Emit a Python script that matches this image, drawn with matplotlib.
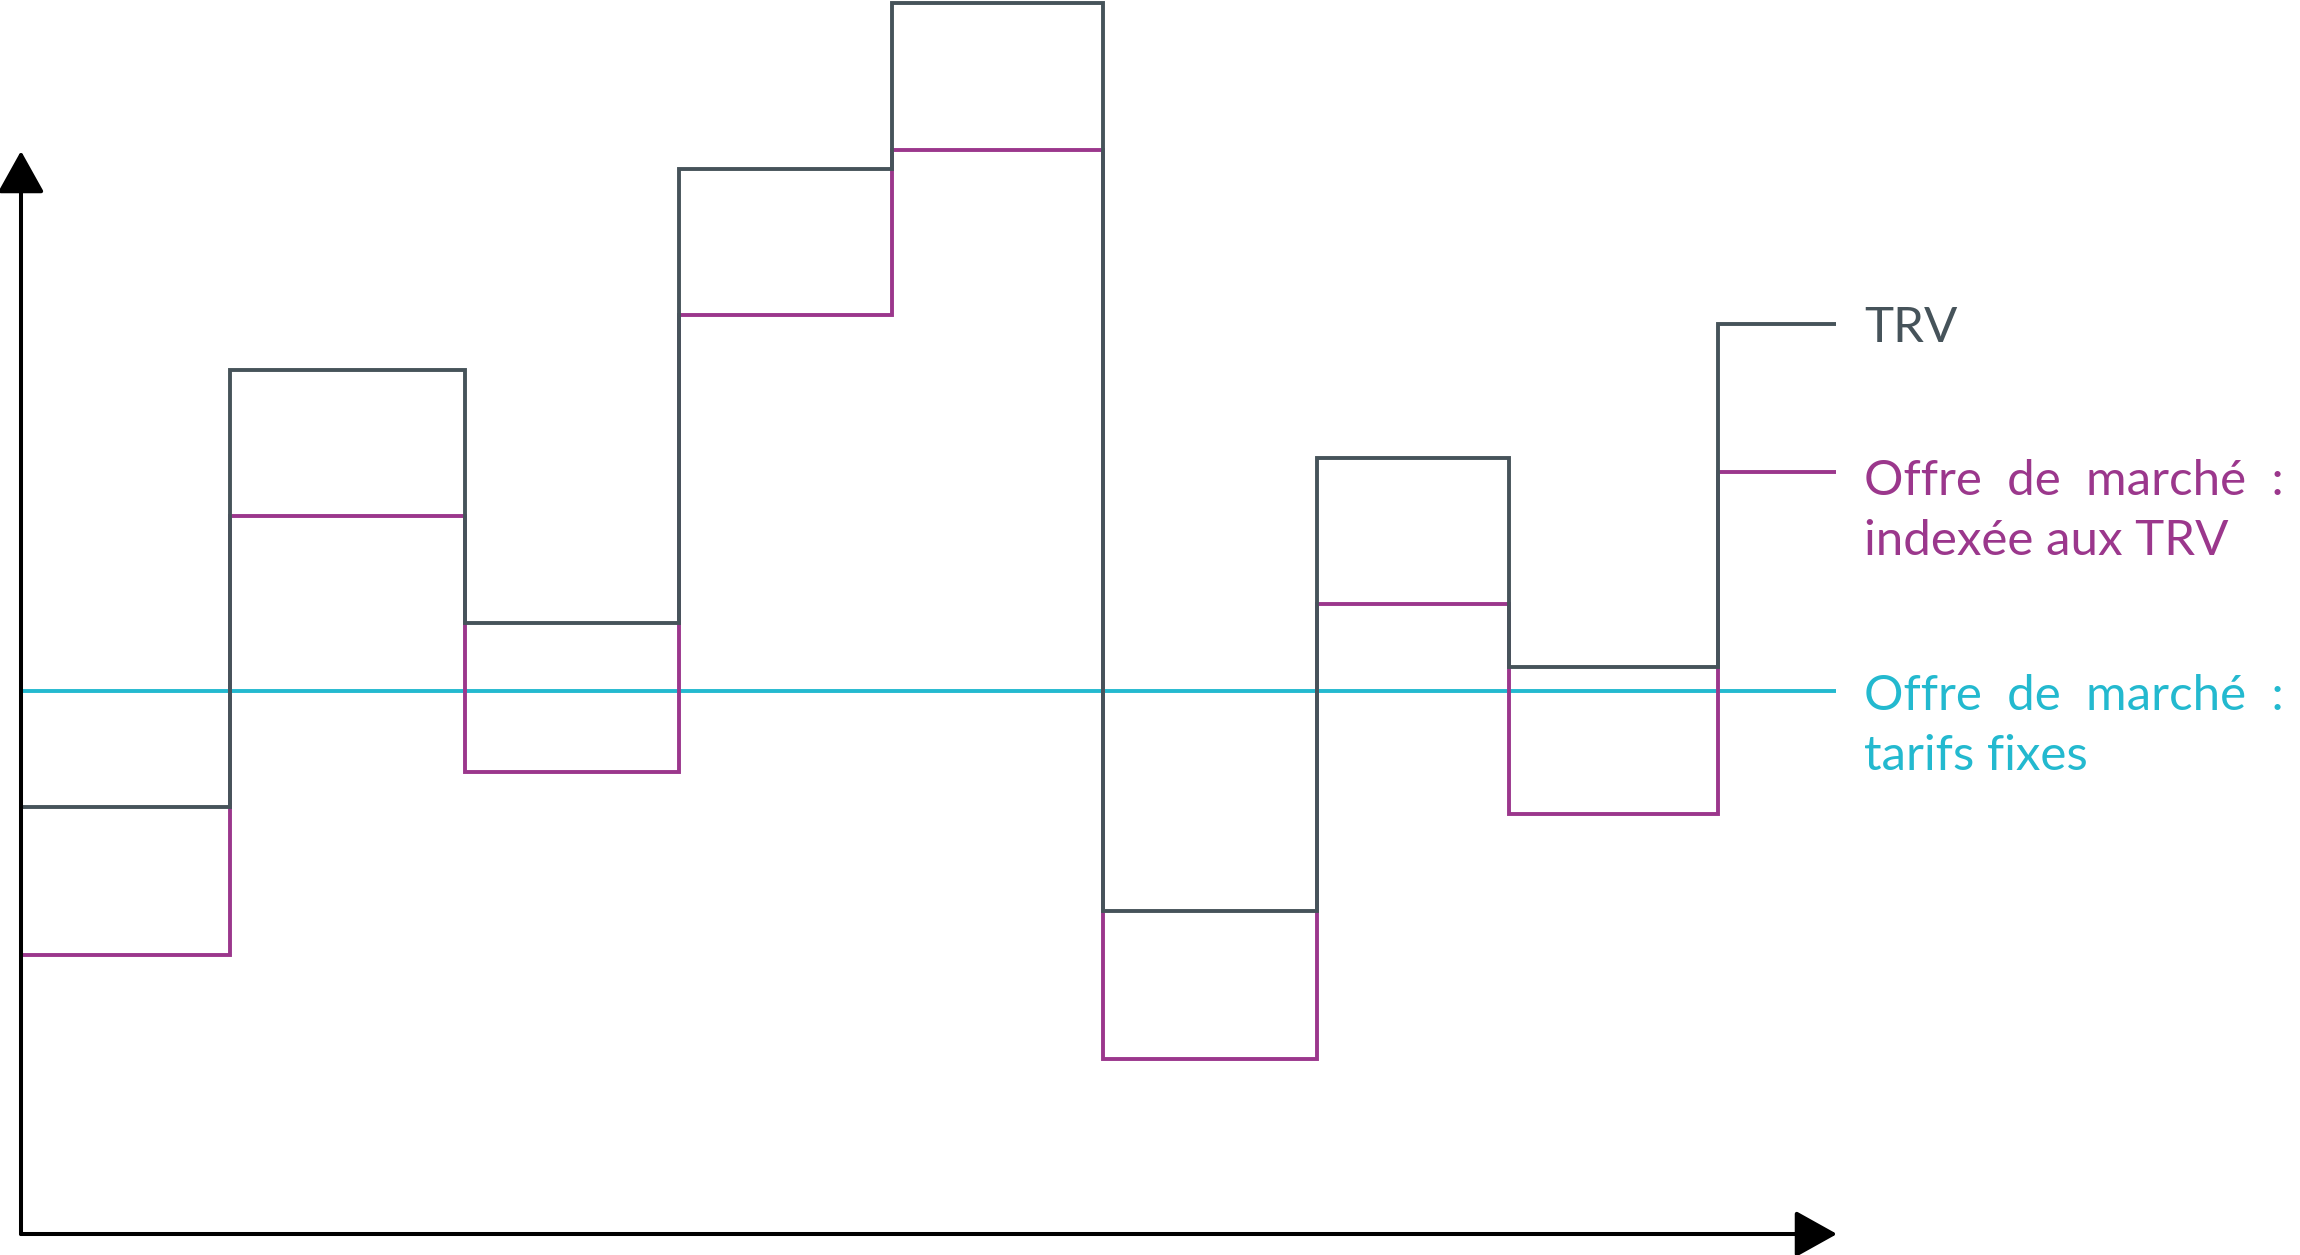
import matplotlib
matplotlib.use("Agg")
import matplotlib.pyplot as plt

# Step edges (periods) and levels, arbitrary price units
period_edges = [0, 20.9, 44.4, 65.8, 87.1, 108.2, 129.6, 148.8, 169.7, 181.5]
trv = [42.7, 86.4, 61.1, 106.5, 123.1, 32.3, 77.6, 56.7, 91.0]
offre_indexee = [27.9, 71.8, 46.2, 91.9, 108.4, 17.5, 63.0, 42.0, 76.2]
offre_fixe = 54.3

labels = ["TRV", ["Offre  de  marché  :", "indexée aux TRV"], ["Offre  de  marché  :", "tarifs fixes"]]

c_trv = "#46535a"
c_idx = "#9b378c"
c_fix = "#23b9cf"

W, H = 2300, 1255
fig = plt.figure(figsize=(W / 100, H / 100), dpi=100)
left, bottom = 21 / W, 21 / H
ax = fig.add_axes([left, bottom, 1 - left, 1 - bottom])
ax.set_xlim(0, 227.9)
ax.set_ylim(0, 123.4)
ax.axis("off")

lw = 2.8
ax.hlines(offre_fixe, period_edges[0], period_edges[-1], color=c_fix, lw=lw, zorder=1, clip_on=False)
ax.stairs(offre_indexee, period_edges, baseline=None, color=c_idx, lw=lw, zorder=2, clip_on=False)
ax.stairs(trv, period_edges, baseline=None, color=c_trv, lw=lw, zorder=3, clip_on=False)

# axes arrows
arrow_kw = dict(arrowstyle="-|>,head_length=2.6,head_width=1.45", mutation_scale=10,
                lw=2.9, color="black", shrinkA=0, shrinkB=0)
ax.annotate("", xy=(0, 108.3), xytext=(0, 0), arrowprops=arrow_kw, annotation_clip=False)
ax.annotate("", xy=(181.6, 0), xytext=(0, 0), arrowprops=arrow_kw, annotation_clip=False)

font = dict(family=["Lato", "DejaVu Sans"], fontsize=35.5)
tx = 184.3
ax.text(tx, trv[-1] - 0.4, labels[0], color=c_trv, va="center", ha="left", **font)
ax.text(tx, offre_indexee[-1] - 0.9, labels[1][0], color=c_idx, va="center", ha="left", **font)
ax.text(tx, offre_indexee[-1] - 6.9, labels[1][1], color=c_idx, va="center", ha="left", **font)
ax.text(tx, offre_fixe - 0.5, labels[2][0], color=c_fix, va="center", ha="left", **font)
ax.text(tx, offre_fixe - 6.5, labels[2][1], color=c_fix, va="center", ha="left", **font)

fig.savefig("out.png", dpi=100)
